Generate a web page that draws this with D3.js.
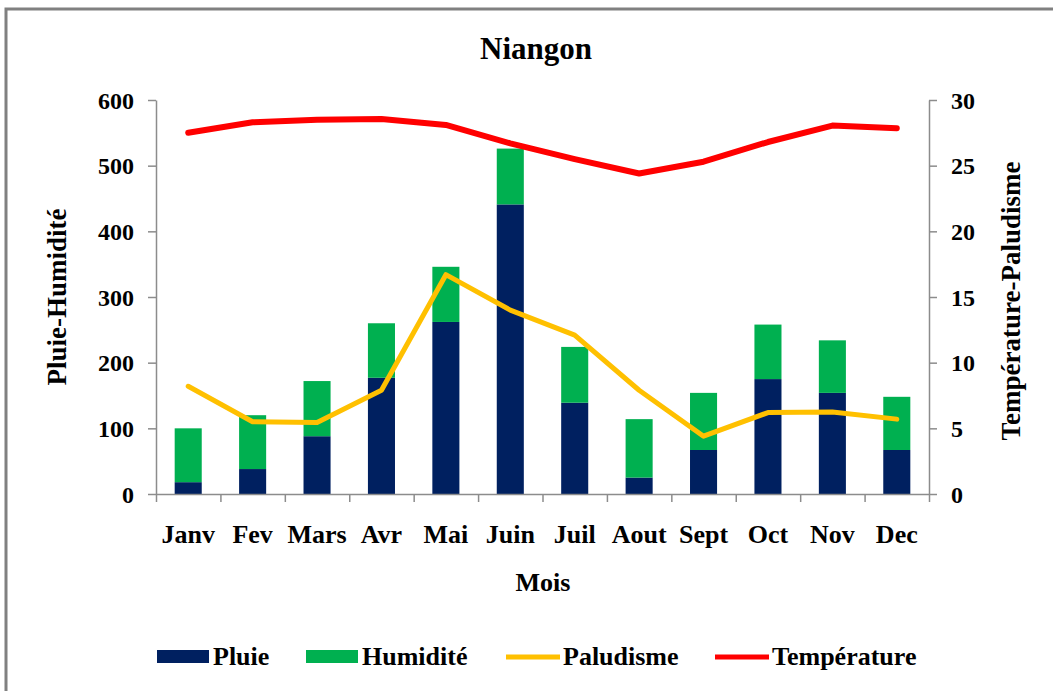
<!DOCTYPE html>
<html>
<head>
<meta charset="utf-8">
<script src="https://cdn.jsdelivr.net/npm/d3@7"></script>
<style>
    body { margin: 0; background: #fff; }
    svg text { font-family: 'Liberation Serif', 'Times New Roman', serif; font-weight: bold; fill: #000; }
    .axis path, .axis line { stroke: #8c8c8c; stroke-width: 1.5; }
</style>
</head>
<body>
<script>
const months = ['Janv', 'Fev', 'Mars', 'Avr', 'Mai', 'Juin', 'Juil', 'Aout', 'Sept', 'Oct', 'Nov', 'Dec']
const pluie = [18, 38, 88, 177, 262, 441, 139, 25, 67, 175, 154, 67]
const humidite = [82, 82, 84, 83, 84, 85, 85, 89, 87, 83, 80, 81]
const paludisme = [8.2, 5.5, 5.45, 7.9, 16.7, 14.0, 12.1, 7.9, 4.4, 6.2, 6.25, 5.7]
const temperature = [27.5, 28.3, 28.5, 28.55, 28.1, 26.7, 25.5, 24.4, 25.3, 26.8, 28.05, 27.85]
const leftTicks = [0, 100, 200, 300, 400, 500, 600]
const rightTicks = [0, 5, 10, 15, 20, 25, 30]

const colors = {pluie: '#002060', humidite: '#00b050', paludisme: '#ffc000', temperature: '#ff0000'}

const width = 1053
const height = 691
const plotLeft = 156
const plotRight = 929
const plotTop = 100
const plotBottom = 494

const svg = d3.select('body')
    .append('svg')
    .attr('width', width)
    .attr('height', height)

// frame (only top and left edges are visible)
svg.append('path')
    .attr('d', `M6,${height} L6,9 L${width},9`)
    .attr('fill', 'none')
    .attr('stroke', '#808080')
    .attr('stroke-width', 3)

svg.append('text')
    .attr('x', 536)
    .attr('y', 59)
    .attr('text-anchor', 'middle')
    .style('font-size', '31px')
    .text('Niangon')

const x = d3.scaleBand()
    .domain(months)
    .range([plotLeft, plotRight])
    .paddingInner(0.58)
    .paddingOuter(0.29)
const xEdge = d3.scaleLinear().domain([0, 12]).range([plotLeft, plotRight])
const yL = d3.scaleLinear().domain([0, 600]).range([plotBottom, plotTop])
const yR = d3.scaleLinear().domain([0, 30]).range([plotBottom, plotTop])

// stacked bars
const rows = months.map((m, i) => ({month: m, pluie: pluie[i], humidite: humidite[i]}))
const stacked = d3.stack().keys(['pluie', 'humidite'])(rows)

svg.append('g')
    .selectAll('g')
    .data(stacked)
    .join('g')
    .attr('fill', d => colors[d.key])
    .selectAll('rect')
    .data(d => d)
    .join('rect')
    .attr('x', d => x(d.data.month))
    .attr('width', x.bandwidth())
    .attr('y', d => yL(d[1]))
    .attr('height', d => yL(d[0]) - yL(d[1]))

// axes
svg.append('g')
    .attr('class', 'axis')
    .attr('transform', `translate(${plotLeft},0)`)
    .call(d3.axisLeft(yL).tickValues(leftTicks).tickSize(8).tickPadding(14).tickSizeOuter(0))
    .call(g => g.selectAll('text').style('font-size', '24px').attr('dy', '0.34em'))

svg.append('g')
    .attr('class', 'axis')
    .attr('transform', `translate(${plotRight},0)`)
    .call(d3.axisRight(yR).tickValues(rightTicks).tickSize(8).tickPadding(14).tickSizeOuter(0))
    .call(g => g.selectAll('text').style('font-size', '24px').attr('dy', '0.34em'))

svg.append('g')
    .attr('class', 'axis')
    .attr('transform', `translate(0,${plotBottom})`)
    .call(d3.axisBottom(xEdge).ticks(12).tickSize(8).tickFormat('').tickSizeOuter(0))

svg.append('g')
    .selectAll('text')
    .data(months)
    .join('text')
    .attr('x', d => x(d) + x.bandwidth() / 2)
    .attr('y', 543)
    .attr('text-anchor', 'middle')
    .style('font-size', '26px')
    .text(d => d)

// lines
const line = d3.line()
    .x((d, i) => x(months[i]) + x.bandwidth() / 2)
    .y(d => yR(d))

svg.append('path')
    .datum(paludisme)
    .attr('d', line)
    .attr('fill', 'none')
    .attr('stroke', colors.paludisme)
    .attr('stroke-width', 5)
    .attr('stroke-linejoin', 'round')
    .attr('stroke-linecap', 'round')

svg.append('path')
    .datum(temperature)
    .attr('d', line)
    .attr('fill', 'none')
    .attr('stroke', colors.temperature)
    .attr('stroke-width', 6)
    .attr('stroke-linejoin', 'round')
    .attr('stroke-linecap', 'round')

// axis titles
svg.append('text')
    .attr('transform', 'translate(66,297) rotate(-90)')
    .attr('text-anchor', 'middle')
    .style('font-size', '27px')
    .text('Pluie-Humidité')

svg.append('text')
    .attr('transform', 'translate(1020,301) rotate(-90)')
    .attr('text-anchor', 'middle')
    .style('font-size', '27px')
    .text('Température-Paludisme')

svg.append('text')
    .attr('x', 543)
    .attr('y', 591)
    .attr('text-anchor', 'middle')
    .style('font-size', '26px')
    .text('Mois')

// legend
const legend = [
    {key: 'pluie', label: 'Pluie', type: 'rect', x: 157},
    {key: 'humidite', label: 'Humidité', type: 'rect', x: 306},
    {key: 'paludisme', label: 'Paludisme', type: 'line', x: 506},
    {key: 'temperature', label: 'Température', type: 'line', x: 715}
]

const item = svg.append('g')
    .selectAll('g')
    .data(legend)
    .join('g')
    .attr('transform', d => `translate(${d.x},657)`)

item.filter(d => d.type === 'rect')
    .append('rect')
    .attr('x', 0)
    .attr('y', -7)
    .attr('width', 52)
    .attr('height', 13)
    .attr('fill', d => colors[d.key])

item.filter(d => d.type === 'line')
    .append('line')
    .attr('x1', 0)
    .attr('x2', 54)
    .attr('stroke', d => colors[d.key])
    .attr('stroke-width', 5)

item.append('text')
    .attr('x', d => d.type === 'rect' ? 56 : 57)
    .attr('y', 8)
    .style('font-size', '26px')
    .text(d => d.label)
</script>
</body>
</html>
